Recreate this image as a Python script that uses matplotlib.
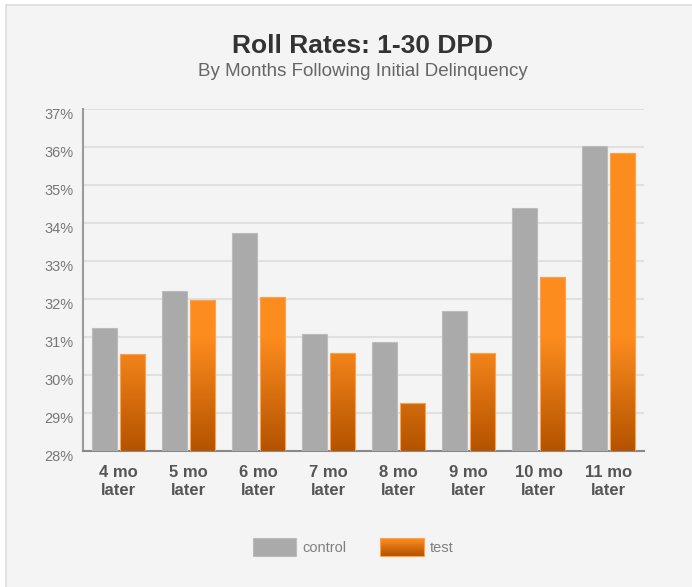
import matplotlib
matplotlib.use("Agg")
import matplotlib.pyplot as plt
import matplotlib.transforms as mtransforms
import numpy as np
from matplotlib.patches import Rectangle, Patch
from matplotlib.colors import LinearSegmentedColormap
from matplotlib.legend_handler import HandlerPatch

plt.rcParams['font.family'] = ['Liberation Sans', 'DejaVu Sans']

categories = ["4 mo\nlater", "5 mo\nlater", "6 mo\nlater", "7 mo\nlater",
              "8 mo\nlater", "9 mo\nlater", "10 mo\nlater", "11 mo\nlater"]
control = [31.23, 32.22, 33.74, 31.07, 30.88, 31.68, 34.40, 36.03]
test = [30.55, 31.97, 32.05, 30.59, 29.27, 30.57, 32.59, 35.83]
yticks = [28, 29, 30, 31, 32, 33, 34, 35, 36, 37]

GRAY = '#aaaaaa'
DARK_OR = '#b45300'
BRIGHT_OR = '#fd8c1e'
orange_cmap = LinearSegmentedColormap.from_list('org', [DARK_OR, BRIGHT_OR])

fig = plt.figure(figsize=(6.92, 5.87), dpi=100)
fig.patch.set_facecolor('white')
# panel frame
fig.patches.append(Rectangle((6/692, -0.01), 1.0, (587-5)/587 + 0.01,
                             transform=fig.transFigure, facecolor='#f4f4f4',
                             edgecolor='#dcdcdc', lw=1.2, zorder=-10))

ax = fig.add_axes([83/692, (587-451)/587, (644-83)/692, (451-109)/587])
ax.set_facecolor('none')

x = np.arange(len(categories))
w = 25/70
off = 14/70

ax.bar(x - off, np.array(control) - 28, bottom=28, width=w, color=GRAY,
       edgecolor='#bcbcbc', lw=0.8, zorder=3)
tbars = ax.bar(x + off, np.array(test) - 28, bottom=28, width=w, color='none',
               edgecolor='#ffa04a', lw=0.8, zorder=4)

# vertical gradient fixed in data space: dark at 28%, bright from 31% up
grad_y = np.linspace(28, 37, 400)
grad_v = np.clip((grad_y - 28) / 3.0, 0, 1)
grad = grad_v[:, None]
for b in tbars:
    x0 = b.get_x()
    im = ax.imshow(grad, cmap=orange_cmap, vmin=0, vmax=1, origin='lower',
                   extent=[x0, x0 + b.get_width(), 28, 37], aspect='auto',
                   zorder=3.5, interpolation='bilinear')
    im.set_clip_path(b)

ax.set_xlim(-0.5, len(categories) - 0.5)
ax.set_ylim(28, 37)
ax.set_yticks(yticks)
ax.set_yticklabels([f"{v}%" for v in yticks], color='#777777', fontsize=10.5)
ax.set_xticks(x)
ax.set_xticklabels(categories, fontsize=12, fontweight='bold', color='#555555',
                   linespacing=1.3)
ax.tick_params(axis='both', length=0)
ax.tick_params(axis='y', pad=7)
ax.tick_params(axis='x', pad=10)
# y labels sit a little below their gridlines
shift = mtransforms.ScaledTranslation(0, -5/100, fig.dpi_scale_trans)
for lab in ax.get_yticklabels():
    lab.set_transform(lab.get_transform() + shift)
ax.grid(axis='y', color='#e0e0e0', lw=1.5, zorder=0)
ax.set_axisbelow(True)
for s in ['top', 'right']:
    ax.spines[s].set_visible(False)
ax.spines['left'].set_color('#9a9a9a')
ax.spines['left'].set_linewidth(1.5)
ax.spines['bottom'].set_color('#888888')
ax.spines['bottom'].set_linewidth(1.5)

cx = 363/692
fig.text(cx, (587-46)/587, "Roll Rates: 1-30 DPD", ha='center', va='center',
         fontsize=19, fontweight='bold', color='#333333')
fig.text(cx, (587-72)/587, "By Months Following Initial Delinquency", ha='center',
         va='center', fontsize=13.5, color='#666666')


class GradientHandler(HandlerPatch):
    def create_artists(self, legend, orig_handle, xdescent, ydescent, width,
                       height, fontsize, trans):
        arts = []
        n = 20
        for i in range(n):
            r = Rectangle((-xdescent, -ydescent + height * i / n), width,
                          height / n + 0.3, facecolor=orange_cmap(i / (n - 1)),
                          edgecolor='none', transform=trans)
            arts.append(r)
        edge = Rectangle((-xdescent, -ydescent), width, height, facecolor='none',
                         edgecolor='#ffa04a', lw=0.8, transform=trans)
        arts.append(edge)
        return arts


h_control = Patch(facecolor=GRAY, edgecolor='#bcbcbc', lw=0.8)
h_test = Patch(facecolor=BRIGHT_OR)
leg = fig.legend([h_control, h_test], ["control", "test"], loc='center',
                 bbox_to_anchor=(353/692, (587-547)/587), ncol=2, frameon=False,
                 handlelength=3.0, handleheight=1.45, handletextpad=0.4,
                 columnspacing=2.3, fontsize=10.5,
                 handler_map={h_test: GradientHandler()})
for t in leg.get_texts():
    t.set_color('#808080')

fig.savefig('out.png', dpi=100, facecolor=fig.get_facecolor())
